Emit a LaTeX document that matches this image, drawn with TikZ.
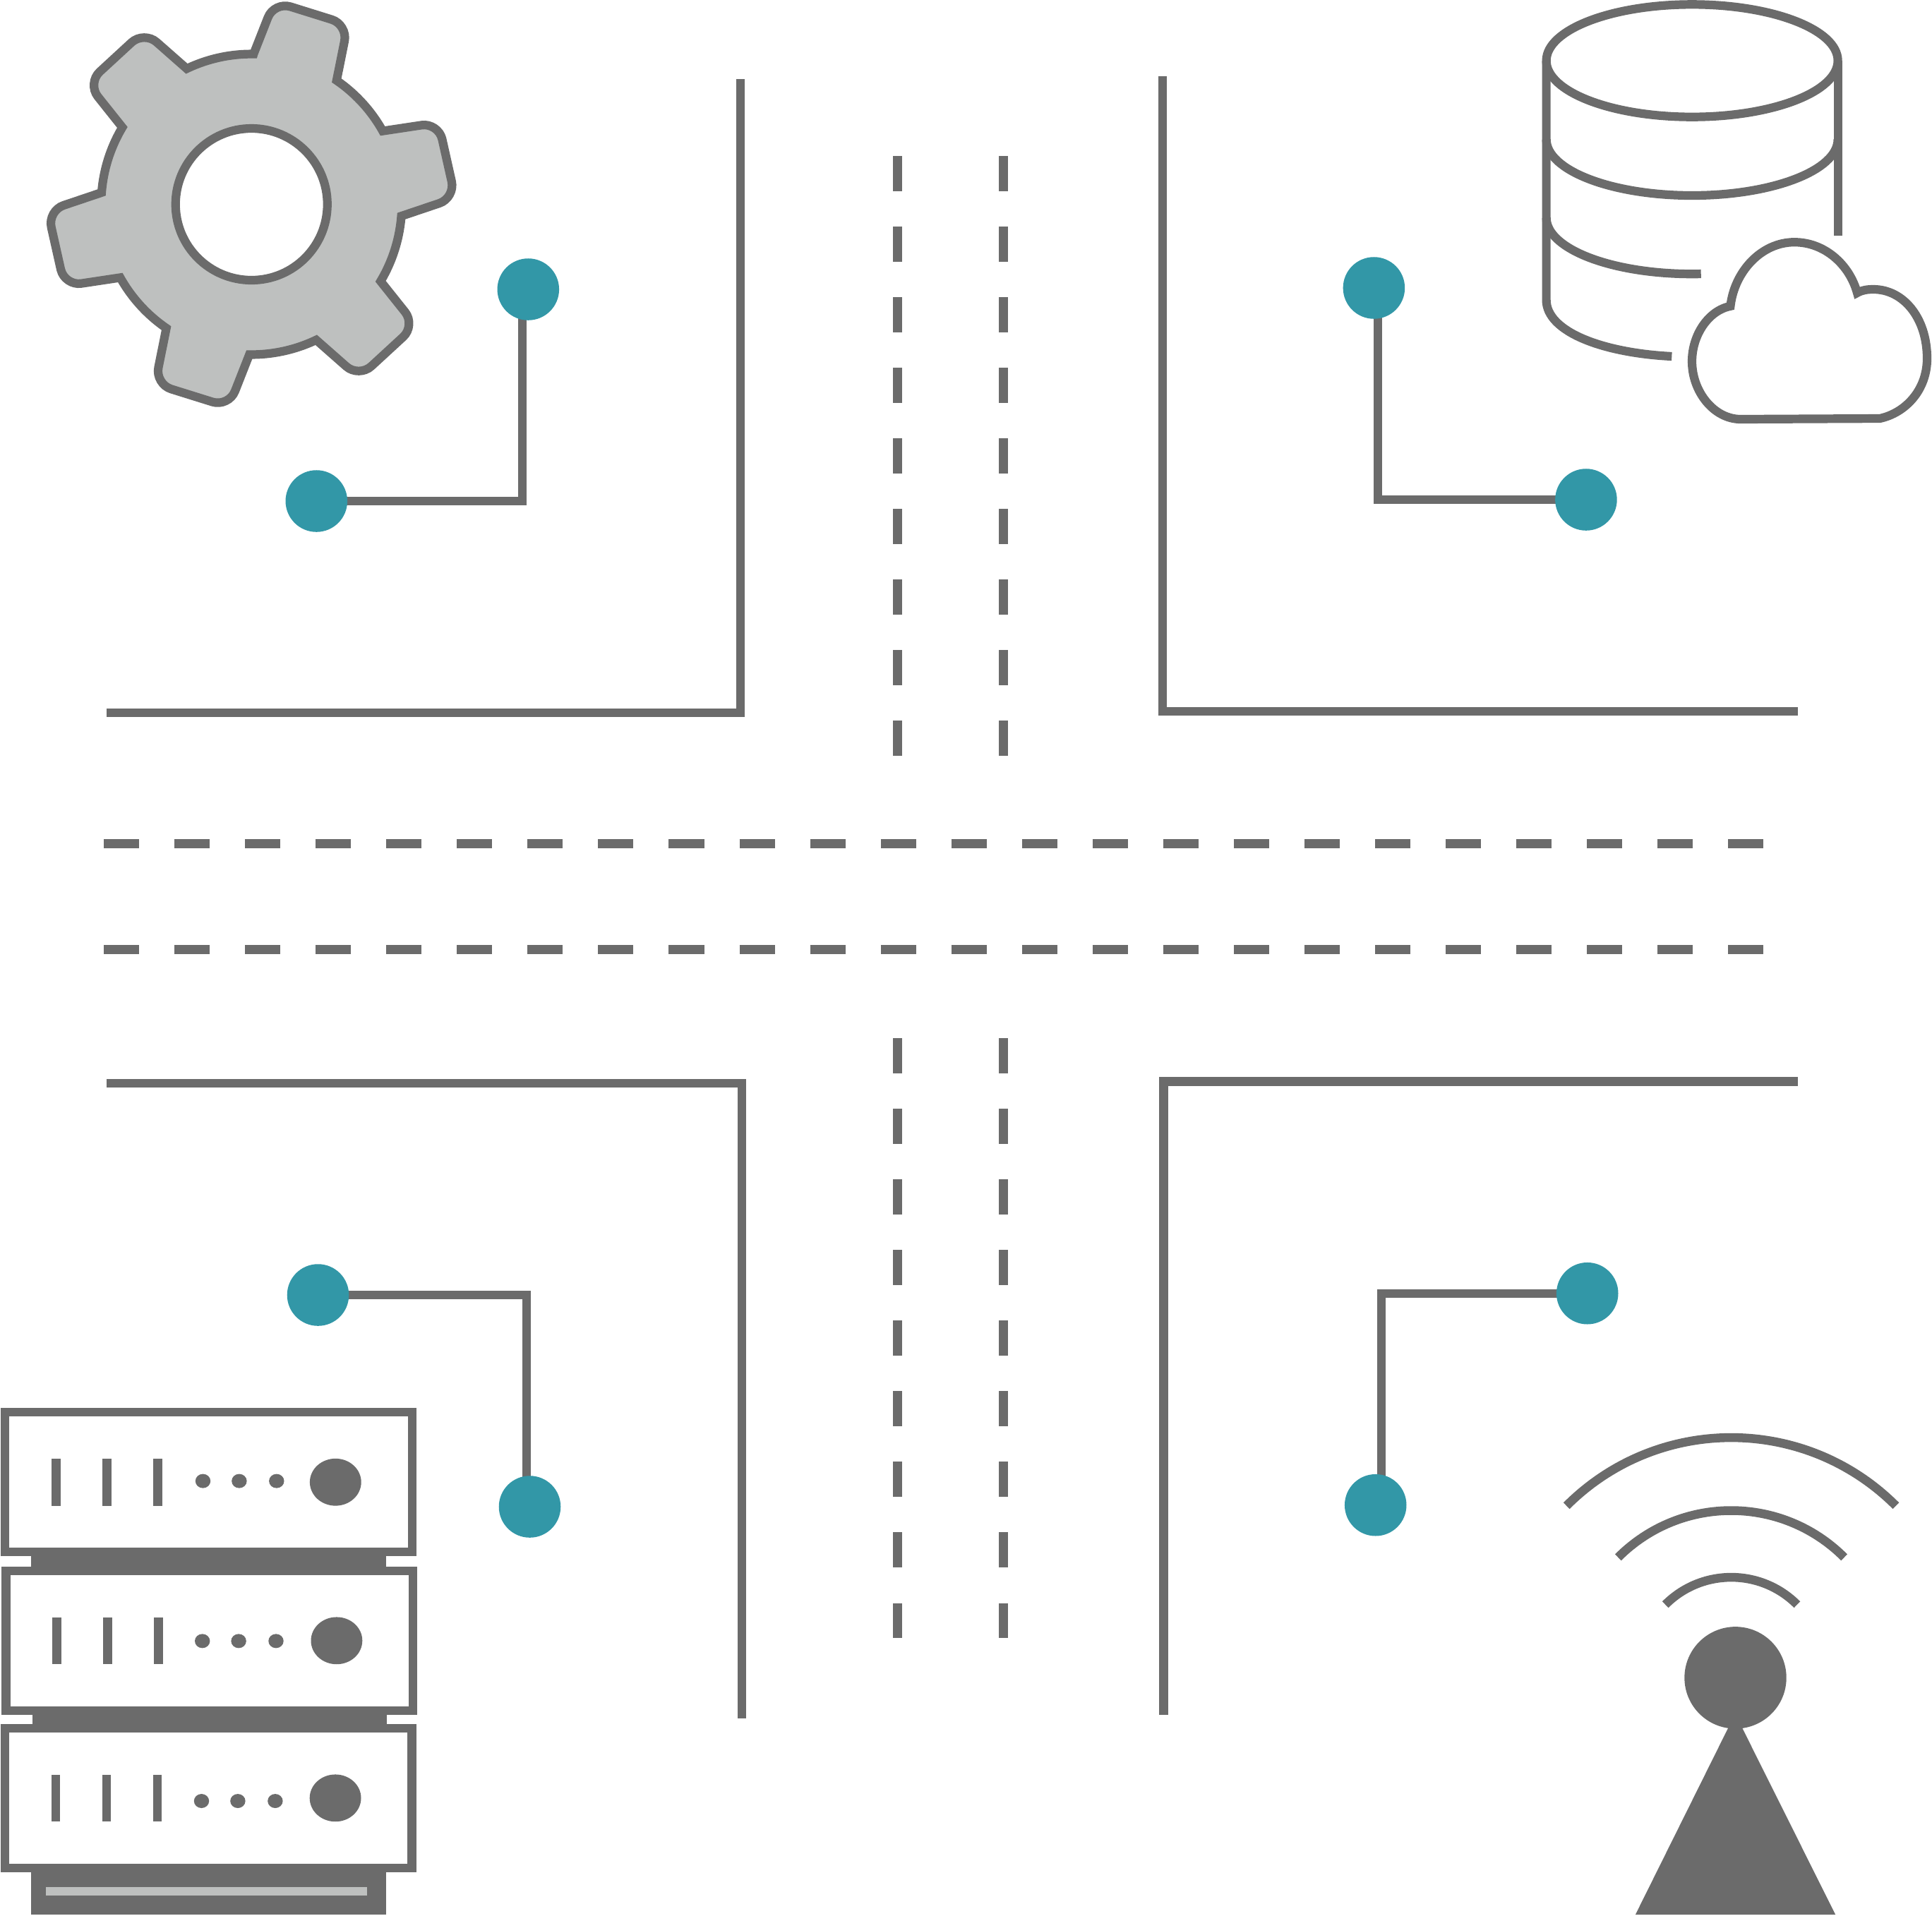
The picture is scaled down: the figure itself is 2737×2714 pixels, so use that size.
\documentclass[tikz,border=0pt]{standalone}
\usetikzlibrary{backgrounds}
\definecolor{ink}{HTML}{6B6B6B}
\definecolor{pale}{HTML}{BEC0BF}
\definecolor{teal}{HTML}{3297A7}
\tikzset{
  wire/.style={draw=ink,line width=0.122cm,miter limit=10},
  roadedge/.style={draw=ink,line width=0.122cm,miter limit=10},
  hdash/.style={draw=ink,line width=0.13cm,dash pattern=on 0.5cm off 0.5cm},
  vdash/.style={draw=ink,line width=0.125cm,dash pattern=on 0.5cm off 0.5cm},
  junction/.style={circle,fill=teal,draw=none,inner sep=0pt,minimum size=0.875cm},
  iconline/.style={draw=ink,line width=0.122cm},
  waveline/.style={draw=ink,line width=0.125cm},
  rackbox/.style={draw=ink,fill=white,line width=0.122cm},
  inkfill/.style={fill=ink,draw=none},
}
\begin{document}
\begin{tikzpicture}[x=0.01cm,y=-0.01cm]
\useasboundingbox (0,0) rectangle (2737,2714);

% road edges
\draw[roadedge] (151,1010) -- (1049,1010) -- (1049,112);
\draw[roadedge] (1646.6,108) -- (1646.6,1008) -- (2547,1008);
\draw[roadedge] (151,1535) -- (1051,1535) -- (1051,2435);
\draw[roadedge] (1648.5,2430) -- (1648.5,1532.5) -- (2547,1532.5);

% road centre markings
\draw[hdash] (147,1195.4) -- (2548,1195.4);
\draw[hdash] (147,1345.4) -- (2548,1345.4);
\draw[vdash] (1271.3,221) -- (1271.3,1071);
\draw[vdash] (1421.3,221) -- (1421.3,1071);
\draw[vdash] (1271.3,1471) -- (1271.3,2321);
\draw[vdash] (1421.3,1471) -- (1421.3,2321);

% junction nodes and connectors
\node[junction] (dA) at (748.3,410) {};
\node[junction] (dB) at (448.3,710) {};
\node[junction] (dC) at (1946.4,408) {};
\node[junction] (dD) at (2246.9,708) {};
\node[junction] (dE) at (450.5,1835) {};
\node[junction] (dF) at (750.5,2135) {};
\node[junction] (dG) at (2248.7,1832.7) {};
\node[junction] (dH) at (1948.7,2132.7) {};
\coordinate (bendAB) at (740.3,710);
\coordinate (bendCD) at (1951.8,708);
\coordinate (bendEF) at (745.6,1835);
\coordinate (bendGH) at (1956.9,1832.7);
\begin{scope}[on background layer]
\draw[wire] (dB.center) -- (bendAB) -- (bendAB |- dA.center);
\draw[wire] (dD.center) -- (bendCD) -- (bendCD |- dC.center);
\draw[wire] (dE.center) -- (bendEF) -- (bendEF |- dF.center);
\draw[wire] (dG.center) -- (bendGH) -- (bendGH |- dH.center);
\end{scope}

% gear
\begin{scope}[shift={(356.25,289.5)},x=0.01cm,y=0.01cm]
\draw[iconline,fill=pale,miter limit=10] (3,213)
  foreach \k in {0,...,5}{
    -- ([rotate=-60*\k]23.4,264.9)
    .. controls ([rotate=-60*\k]28.2,277.1) and ([rotate=-60*\k]42.5,284) .. ([rotate=-60*\k]55.1,280.1)
    -- ([rotate=-60*\k]113.7,261.8)
    .. controls ([rotate=-60*\k]126.3,257.9) and ([rotate=-60*\k]134.5,244.1) .. ([rotate=-60*\k]131.8,231.2)
    -- ([rotate=-60*\k]120.6,175.5)
    arc[start angle={55.5-60*\k},end angle={29.2-60*\k},radius=213]
  } -- cycle;
\draw[iconline,fill=white] (0,0) circle[radius=107.5];
\end{scope}

% database
\draw[iconline] (2397.1,86) ellipse[x radius=206.5,y radius=79.7];
\draw[iconline] (2603.6,86) -- (2603.6,334);
\draw[iconline] (2190.6,197.4) arc[start angle=180,end angle=0,x radius=206.5,y radius=79.6];
\draw[iconline] (2190.6,308.6) arc[start angle=180,end angle=86.5,x radius=206.5,y radius=79.6];
\draw[iconline] (2190.6,86) -- (2190.6,425) .. controls (2190.6,470) and (2270,500) .. (2368.3,505);

% cloud
\draw[iconline,miter limit=10] (2451.4,433.8)
  .. controls (2457,385) and (2495,343.2) .. (2542,343.2)
  .. controls (2585,343.2) and (2620,375) .. (2631,415)
  .. controls (2638,411) and (2645,410) .. (2654,410)
  .. controls (2696,410) and (2730,450) .. (2730,508)
  .. controls (2730,552) and (2700,585) .. (2663,593)
  -- (2466,594)
  .. controls (2428,594) and (2397,555) .. (2397,512)
  .. controls (2397,475) and (2420,440) .. (2451.4,433.8) -- cycle;

% server rack
\fill[inkfill] (44.3,2190) rectangle (546.5,2235);
\fill[inkfill] (45.9,2414) rectangle (548.4,2458);
\fill[inkfill] (44.3,2638) rectangle (546.5,2712.9);
\fill[pale] (64.5,2674) rectangle (520.4,2686.3);
\draw[rackbox] (7.3,2000.9) rectangle (583.7,2199);
\draw[rackbox] (8.5,2225.7) rectangle (584.8,2423.6);
\draw[rackbox] (7.3,2448.6) rectangle (583.5,2646.9);
% rack unit 1
\fill[inkfill] (73.2,2066.8) rectangle (85.8,2133.7);
\fill[inkfill] (145.1,2066.8) rectangle (157.8,2133.7);
\fill[inkfill] (217.1,2066.8) rectangle (229.7,2133.7);
\fill[inkfill] (287.5,2098.6) ellipse[x radius=10.7,y radius=10];
\fill[inkfill] (338.9,2098.6) ellipse[x radius=10.7,y radius=10];
\fill[inkfill] (391.8,2098.6) ellipse[x radius=10.7,y radius=10];
\fill[inkfill] (475.3,2100.2) ellipse[x radius=36.4,y radius=33.4];
% rack unit 2
\fill[inkfill] (74,2291.6) rectangle (87,2358);
\fill[inkfill] (146.3,2291.6) rectangle (159,2358);
\fill[inkfill] (218.3,2291.6) rectangle (230.9,2358);
\fill[inkfill] (286.7,2325.3) ellipse[x radius=10.7,y radius=10];
\fill[inkfill] (338.1,2325.3) ellipse[x radius=10.7,y radius=10];
\fill[inkfill] (391,2325.3) ellipse[x radius=10.7,y radius=10];
\fill[inkfill] (476.9,2324.8) ellipse[x radius=36.4,y radius=33.4];
% rack unit 3
\fill[inkfill] (72.8,2515) rectangle (85.4,2581);
\fill[inkfill] (144.7,2515) rectangle (157.4,2581);
\fill[inkfill] (216.7,2515) rectangle (229.3,2581);
\fill[inkfill] (285.5,2552) ellipse[x radius=10.7,y radius=10];
\fill[inkfill] (336.9,2552) ellipse[x radius=10.7,y radius=10];
\fill[inkfill] (389.9,2552) ellipse[x radius=10.7,y radius=10];
\fill[inkfill] (475.1,2547.8) ellipse[x radius=36.4,y radius=33.4];

% radio mast
\fill[inkfill] (2458.5,2377.3) circle[radius=72.2];
\fill[inkfill] (2458.15,2428.5) -- (2600.2,2713.1) -- (2316.8,2713.1) -- cycle;
\draw[waveline] (2219.2,2133.7) arc[start angle=-135,end angle=-45,radius=330];
\draw[waveline] (2292.3,2206.8) arc[start angle=-135,end angle=-45,radius=226.5];
\draw[waveline] (2359.2,2273.7) arc[start angle=-135,end angle=-45,radius=132];
\end{tikzpicture}
\end{document}
